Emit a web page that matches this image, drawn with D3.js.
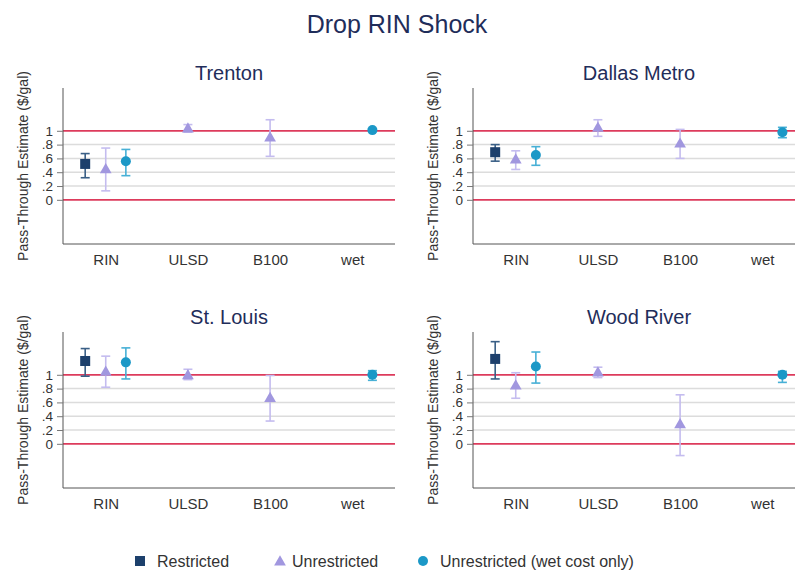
<!DOCTYPE html>
<html>
<head>
<meta charset="utf-8">
<script src="https://cdn.jsdelivr.net/npm/d3@7"></script>
<style>
  body { margin: 0; background: #fff; }
  text { font-family: "Liberation Sans", Arial, sans-serif; }
</style>
</head>
<body>
<script>
// chart data
var panels = ["Trenton", "Dallas Metro", "St. Louis", "Wood River"];
var categories = ["RIN", "ULSD", "B100", "wet"];
var yTicks = [0, 0.2, 0.4, 0.6, 0.8, 1];
var yTickLabels = ["0", ".2", ".4", ".6", ".8", "1"];
var seriesNames = ["Restricted", "Unrestricted", "Unrestricted (wet cost only)"];

// which categories each series has an estimate for
var restrictedCats = ["RIN"];
var unrestrictedCats = ["RIN", "ULSD", "B100"];
var wetCostCats = ["RIN", "wet"];

// one row per panel, one value per category above
var restrictedEst = [[0.52], [0.69], [1.20], [1.23]];
var restrictedLo  = [[0.32], [0.56], [0.98], [0.94]];
var restrictedHi  = [[0.67], [0.80], [1.38], [1.48]];

var unrestrictedEst = [[0.45, 1.04, 0.91], [0.59, 1.05, 0.82], [1.05, 1.00, 0.67], [0.85, 1.04, 0.29]];
var unrestrictedLo  = [[0.13, 0.98, 0.63], [0.44, 0.92, 0.60], [0.82, 0.93, 0.33], [0.66, 0.96, -0.17]];
var unrestrictedHi  = [[0.75, 1.09, 1.16], [0.71, 1.16, 1.02], [1.27, 1.08, 0.99], [1.03, 1.11, 0.71]];

var wetCostEst = [[0.56, 1.01], [0.65, 0.98], [1.18, 1.00], [1.12, 1.00]];
var wetCostLo  = [[0.35, 0.99], [0.50, 0.90], [0.94, 0.92], [0.88, 0.89]];
var wetCostHi  = [[0.73, 1.03], [0.77, 1.05], [1.39, 1.06], [1.33, 1.05]];

var width = 795, height = 575;
var svg = d3.select("body").append("svg")
    .attr("width", width)
    .attr("height", height);

// styles
var navy = "#1f2d5a";
var colors = { "Restricted": "#1d406c", "Unrestricted": "#a197df", "Unrestricted (wet cost only)": "#1b98c7" };
var barColors = { "Restricted": "#3a5f86", "Unrestricted": "#c4bcef", "Unrestricted (wet cost only)": "#47b0d6" };
var shift = { "Restricted": -0.25, "Unrestricted": 0, "Unrestricted (wet cost only)": 0.245 };

var seriesData = [
    { name: "Restricted", cats: restrictedCats, est: restrictedEst, lo: restrictedLo, hi: restrictedHi },
    { name: "Unrestricted", cats: unrestrictedCats, est: unrestrictedEst, lo: unrestrictedLo, hi: unrestrictedHi },
    { name: "Unrestricted (wet cost only)", cats: wetCostCats, est: wetCostEst, lo: wetCostLo, hi: wetCostHi }
];

// plot area of one panel (top-left panel), others are translated
var plotLeft = 63, plotRight = 395, plotTop = 88, plotBottom = 244;
var dx = 410, dy = 244;

var x = d3.scalePoint().domain(categories).range([plotLeft, plotRight]).padding(0.52);
var y = d3.scaleLinear().domain([-0.64, 1.62]).range([plotBottom, plotTop]);

// main title
svg.append("text")
    .attr("x", 397).attr("y", 33)
    .attr("text-anchor", "middle")
    .style("font-size", "25px")
    .style("fill", navy)
    .text("Drop RIN Shock");

function marker(g, name, cx, cy) {
    var c = colors[name];
    if (name == "Restricted") {
        g.append("rect").attr("x", cx - 5).attr("y", cy - 5)
            .attr("width", 10).attr("height", 10).style("fill", c);
    } else if (name == "Unrestricted") {
        g.append("path")
            .attr("d", d3.symbol().type(d3.symbolTriangle).size(60)())
            .attr("transform", "translate(" + cx + "," + (cy + 1) + ")")
            .style("fill", c);
    } else {
        g.append("circle").attr("cx", cx).attr("cy", cy).attr("r", 5).style("fill", c);
    }
}

panels.forEach(function(p, i) {
    var g = svg.append("g")
        .attr("transform", "translate(" + (i % 2) * dx + "," + Math.floor(i / 2) * dy + ")");

    // grid lines
    g.append("g").selectAll("line").data(yTicks.filter(d => d > 0 && d < 1))
        .enter().append("line")
        .attr("x1", plotLeft).attr("x2", plotRight)
        .attr("y1", d => y(d)).attr("y2", d => y(d))
        .style("stroke", "#dcdcdc").style("stroke-width", 1.5);

    // reference lines at 0 and 1
    g.append("g").selectAll("line").data([0, 1])
        .enter().append("line")
        .attr("x1", plotLeft).attr("x2", plotRight)
        .attr("y1", d => y(d)).attr("y2", d => y(d))
        .style("stroke", "#dd3b5c").style("stroke-width", 1.8);

    // y axis
    var yAxis = d3.axisLeft(y).tickValues(yTicks)
        .tickFormat((d, k) => yTickLabels[k]).tickSize(6).tickPadding(4);
    var ya = g.append("g").attr("transform", "translate(" + plotLeft + ",0)").call(yAxis);
    ya.select(".domain").attr("d", "M0," + plotTop + "V" + plotBottom).style("stroke", "#555");
    ya.selectAll(".tick line").style("stroke", "#777");
    ya.selectAll("text").style("font-size", "13.5px").style("fill", "#333");

    // x axis
    var xAxis = d3.axisBottom(x).tickSize(0).tickPadding(10);
    var xa = g.append("g").attr("transform", "translate(0," + plotBottom + ")").call(xAxis);
    xa.select(".domain").attr("d", "M" + plotLeft + ",0H" + plotRight).style("stroke", "#555");
    xa.selectAll("text").style("font-size", "15px").style("fill", "#333");

    // panel title
    g.append("text")
        .attr("x", (plotLeft + plotRight) / 2).attr("y", 80)
        .attr("text-anchor", "middle")
        .style("font-size", "20px")
        .style("fill", navy)
        .text(p);

    // y axis title
    g.append("text")
        .attr("transform", "translate(28," + (plotTop + plotBottom) / 2 + ") rotate(-90)")
        .attr("text-anchor", "middle")
        .style("font-size", "14px")
        .style("fill", "#333")
        .text("Pass-Through Estimate ($/gal)");

    // error bars and points
    seriesData.forEach(function(s) {
        s.cats.forEach(function(cat, k) {
            var cx = x(cat) + shift[s.name] * x.step();
            var lo = s.lo[i][k], hi = s.hi[i][k], est = s.est[i][k];
            var bc = barColors[s.name];
            g.append("line").attr("x1", cx).attr("x2", cx)
                .attr("y1", y(lo)).attr("y2", y(hi))
                .style("stroke", bc).style("stroke-width", 1.6);
            [lo, hi].forEach(function(v) {
                g.append("line").attr("x1", cx - 4.5).attr("x2", cx + 4.5)
                    .attr("y1", y(v)).attr("y2", y(v))
                    .style("stroke", bc).style("stroke-width", 1.6);
            });
            marker(g, s.name, cx, y(est));
        });
    });
});

// legend
var legendX = [140, 280, 423];
var lg = svg.append("g");
seriesNames.forEach(function(n, k) {
    marker(lg, n, legendX[k], 561);
    lg.append("text")
        .attr("x", legendX[k] + (k == 1 ? 12 : 17)).attr("y", 567)
        .style("font-size", "16px")
        .style("fill", "#333")
        .text(n);
});
</script>
</body>
</html>
